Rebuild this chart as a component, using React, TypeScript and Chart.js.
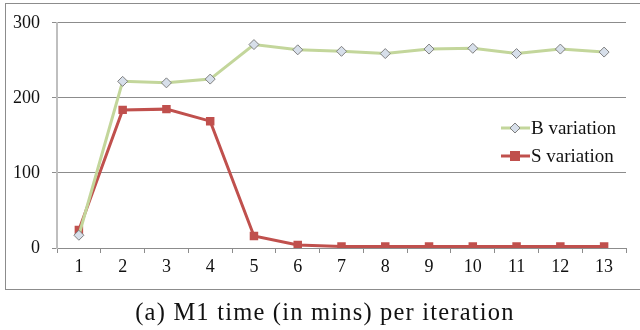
import React, { useEffect, useRef } from "react";
import { Chart, registerables } from "chart.js";

Chart.register(...registerables);

const iterations = ["1", "2", "3", "4", "5", "6", "7", "8", "9", "10", "11", "12", "13"];
const bVariation = [17, 222, 220, 225, 271, 264, 262, 259, 265, 266, 259, 265, 261];
const sVariation = [24, 184, 185, 169, 16, 4, 2, 2, 2, 2, 2, 2, 2];
const yTicks = [0, 100, 200, 300];
const seriesNames = ["B variation", "S variation"];
const caption = "(a) M1 time (in mins) per iteration";

const SERIF = "'Liberation Serif', 'Times New Roman', serif";

const legendPlugin = {
  id: "insideLegend",
  afterDraw(chart: any) {
    const ctx = chart.ctx;
    const rows = [128, 156];
    chart.data.datasets.forEach((ds: any, i: number) => {
      const y = rows[i];
      ctx.save();
      ctx.strokeStyle = ds.borderColor;
      ctx.lineWidth = ds.borderWidth;
      ctx.beginPath();
      ctx.moveTo(501, y);
      ctx.lineTo(530, y);
      ctx.stroke();
      ctx.fillStyle = ds.pointBackgroundColor;
      ctx.strokeStyle = ds.pointBorderColor;
      ctx.lineWidth = 1;
      if (ds.pointStyle === "rectRot") {
        const r = 5;
        ctx.beginPath();
        ctx.moveTo(515, y - r);
        ctx.lineTo(515 + r, y);
        ctx.lineTo(515, y + r);
        ctx.lineTo(515 - r, y);
        ctx.closePath();
        ctx.fill();
        ctx.stroke();
      } else {
        ctx.fillRect(510, y - 5, 10, 10);
      }
      ctx.fillStyle = "#111";
      ctx.font = "19px " + SERIF;
      ctx.textBaseline = "middle";
      ctx.textAlign = "left";
      ctx.fillText(ds.label, 531, y + 1);
      ctx.restore();
    });
  },
};

export default function App() {
  const ref = useRef<HTMLCanvasElement>(null);
  useEffect(() => {
    if (!ref.current) return;
    const chart = new Chart(ref.current, {
      type: "line",
      data: {
        labels: iterations,
        datasets: [
          {
            label: seriesNames[0],
            data: bVariation,
            borderColor: "#c3d69b",
            borderWidth: 3,
            pointStyle: "rectRot",
            pointRadius: 5,
            pointBackgroundColor: "#d7dfea",
            pointBorderColor: "#7f7f7f",
            pointBorderWidth: 1,
            tension: 0,
          },
          {
            label: seriesNames[1],
            data: sVariation,
            borderColor: "#c0504d",
            borderWidth: 3,
            pointStyle: "rect",
            pointRadius: 6,
            pointBackgroundColor: "#c0504d",
            pointBorderColor: "#c0504d",
            pointBorderWidth: 0,
            tension: 0,
          },
        ],
      },
      options: {
        animation: false,
        responsive: false,
        layout: { padding: { top: 20, right: 14, left: 0, bottom: 0 } },
        plugins: { legend: { display: false }, tooltip: { enabled: false } },
        scales: {
          x: {
            offset: true,
            grid: {
              offset: true,
              drawOnChartArea: false,
              drawTicks: true,
              tickLength: 5,
              color: "#8c8c8c",
            },
            border: { display: true, color: "#8c8c8c", width: 1 },
            ticks: { color: "#111", font: { family: SERIF, size: 18 }, padding: 3 },
            afterFit: (s: any) => {
              s.height = 82;
            },
          },
          y: {
            min: 0,
            max: 300,
            afterBuildTicks: (s: any) => {
              s.ticks = yTicks.map((v) => ({ value: v }));
            },
            grid: { color: "#8c8c8c", tickLength: 5, lineWidth: 1 },
            border: { display: true, color: "#bfbfbf", width: 2 },
            ticks: { color: "#111", font: { family: SERIF, size: 18 }, padding: 12 },
            afterFit: (s: any) => {
              s.width = 57;
            },
          },
        },
      },
      plugins: [legendPlugin],
    });
    return () => chart.destroy();
  }, []);
  return (
    <div style={{ position: "absolute", left: 0, top: 0, width: 640, height: 330, background: "#fff" }}>
      <div
        style={{
          position: "absolute",
          left: 5,
          top: 3,
          width: 640,
          height: 285,
          borderLeft: "1px solid #8c8c8c",
          borderTop: "1px solid #8c8c8c",
          borderBottom: "1px solid #8c8c8c",
        }}
      />
      <canvas ref={ref} width={640} height={330} style={{ position: "absolute", left: 0, top: 0 }} />
      <div
        style={{
          position: "absolute",
          left: 0,
          width: 650,
          top: 298,
          textAlign: "center",
          fontFamily: SERIF,
          fontSize: 24.5,
          letterSpacing: 1.2,
          color: "#111",
          whiteSpace: "nowrap",
        }}
      >
        {caption}
      </div>
    </div>
  );
}
